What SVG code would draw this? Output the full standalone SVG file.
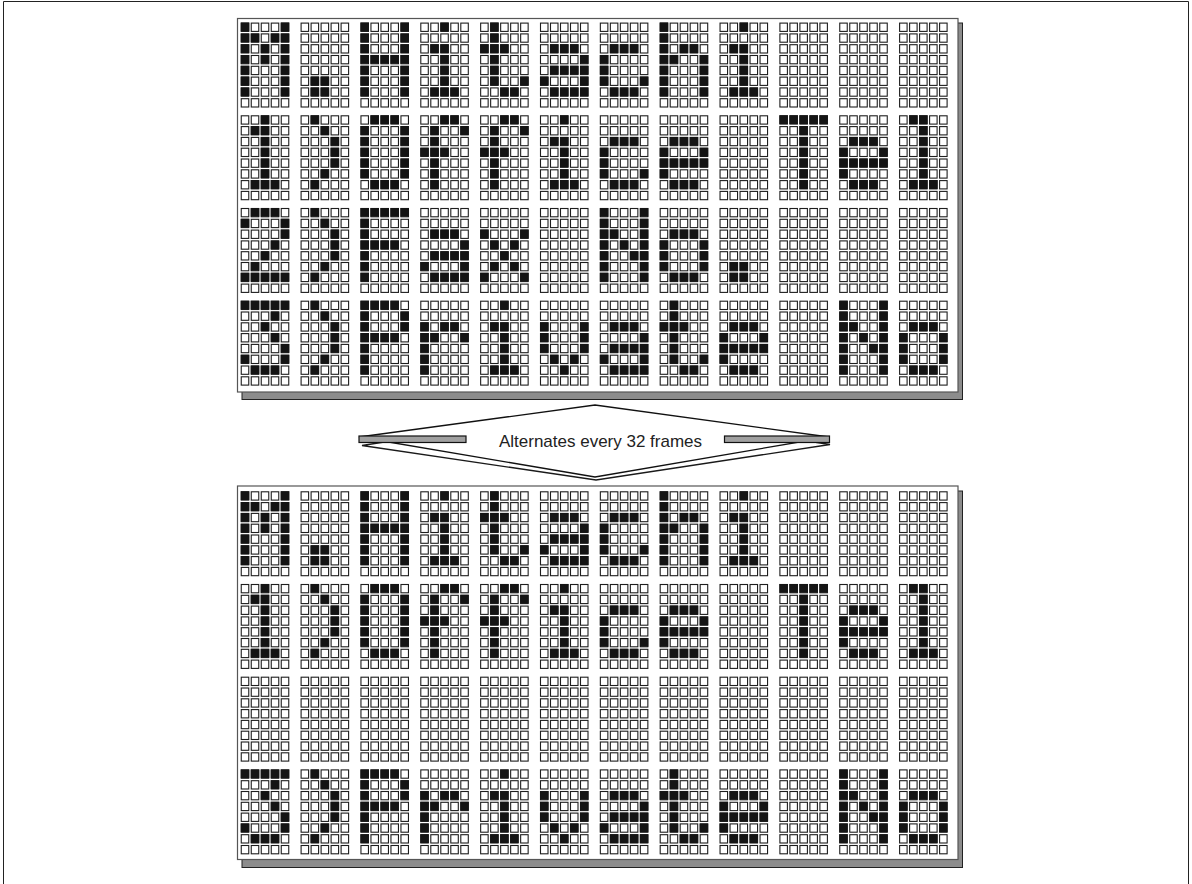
<svg xmlns="http://www.w3.org/2000/svg" xmlns:xlink="http://www.w3.org/1999/xlink" width="1192" height="884" viewBox="0 0 1192 884">
<style>
.on{fill:none;stroke:#141414;stroke-width:8.8}
.cellrow rect{fill:#fff;stroke:#1e1e1e;stroke-width:1.1}
.panel{fill:#fff;stroke:#555;stroke-width:1.2}
.shadow{fill:#8c8c8c;stroke:#222;stroke-width:1}
.lbl{font-family:"Liberation Sans",Arial,sans-serif;font-size:17px;fill:#222}
</style>
<defs>
<g id="r5" class="cellrow"><rect x="1.25" y="1.25" width="7.5" height="8.3"/><rect x="11.25" y="1.25" width="7.5" height="8.3"/><rect x="21.25" y="1.25" width="7.5" height="8.3"/><rect x="31.25" y="1.25" width="7.5" height="8.3"/><rect x="41.25" y="1.25" width="7.5" height="8.3"/></g>
<g id="blk"><use href="#r5"/><use href="#r5" y="10.8"/><use href="#r5" y="21.6"/><use href="#r5" y="32.4"/><use href="#r5" y="43.2"/><use href="#r5" y="54"/><use href="#r5" y="64.8"/><use href="#r5" y="75.6"/></g>
<g id="bl"><use href="#blk"/><use href="#blk" x="59.85"/><use href="#blk" x="119.7"/><use href="#blk" x="179.55"/><use href="#blk" x="239.4"/><use href="#blk" x="299.25"/><use href="#blk" x="359.1"/><use href="#blk" x="418.95"/><use href="#blk" x="478.8"/><use href="#blk" x="538.65"/><use href="#blk" x="598.5"/><use href="#blk" x="658.35"/></g>
<path id="gM" class="on" transform="translate(0.75 5.15)" d="M0 0h8.5m31.5 0h8.5M0 10.8h8.5m1.5 0h8.5m11.5 0h8.5m1.5 0h8.5M0 21.6h8.5m11.5 0h8.5m11.5 0h8.5M0 32.4h8.5m11.5 0h8.5m11.5 0h8.5M0 43.2h8.5m31.5 0h8.5M0 54h8.5m31.5 0h8.5M0 64.8h8.5m31.5 0h8.5"/>
<path id="gdot" class="on" transform="translate(0.75 5.15)" d="M10 54h8.5m1.5 0h8.5M10 64.8h8.5m1.5 0h8.5"/>
<path id="gH" class="on" transform="translate(0.75 5.15)" d="M0 0h8.5m31.5 0h8.5M0 10.8h8.5m31.5 0h8.5M0 21.6h8.5m31.5 0h8.5M0 32.4h8.5m1.5 0h8.5m1.5 0h8.5m1.5 0h8.5m1.5 0h8.5M0 43.2h8.5m31.5 0h8.5M0 54h8.5m31.5 0h8.5M0 64.8h8.5m31.5 0h8.5"/>
<path id="gi" class="on" transform="translate(0.75 5.15)" d="M20 0h8.5M10 21.6h8.5m1.5 0h8.5M20 32.4h8.5M20 43.2h8.5M20 54h8.5M10 64.8h8.5m1.5 0h8.5m1.5 0h8.5"/>
<path id="gt" class="on" transform="translate(0.75 5.15)" d="M10 0h8.5M10 10.8h8.5M0 21.6h8.5m1.5 0h8.5m1.5 0h8.5M10 32.4h8.5M10 43.2h8.5M10 54h8.5m21.5 0h8.5M20 64.8h8.5m1.5 0h8.5"/>
<path id="ga" class="on" transform="translate(0.75 5.15)" d="M10 21.6h8.5m1.5 0h8.5m1.5 0h8.5M40 32.4h8.5M10 43.2h8.5m1.5 0h8.5m1.5 0h8.5m1.5 0h8.5M0 54h8.5m31.5 0h8.5M10 64.8h8.5m1.5 0h8.5m1.5 0h8.5m1.5 0h8.5"/>
<path id="gc" class="on" transform="translate(0.75 5.15)" d="M10 21.6h8.5m1.5 0h8.5m1.5 0h8.5M0 32.4h8.5M0 43.2h8.5M0 54h8.5m31.5 0h8.5M10 64.8h8.5m1.5 0h8.5m1.5 0h8.5"/>
<path id="gh" class="on" transform="translate(0.75 5.15)" d="M0 0h8.5M0 10.8h8.5M0 21.6h8.5m11.5 0h8.5m1.5 0h8.5M0 32.4h8.5m1.5 0h8.5m21.5 0h8.5M0 43.2h8.5m31.5 0h8.5M0 54h8.5m31.5 0h8.5M0 64.8h8.5m31.5 0h8.5"/>
<path id="g1" class="on" transform="translate(0.75 5.15)" d="M20 0h8.5M10 10.8h8.5m1.5 0h8.5M20 21.6h8.5M20 32.4h8.5M20 43.2h8.5M20 54h8.5M10 64.8h8.5m1.5 0h8.5m1.5 0h8.5"/>
<path id="gpar" class="on" transform="translate(0.75 5.15)" d="M10 0h8.5M20 10.8h8.5M30 21.6h8.5M30 32.4h8.5M30 43.2h8.5M20 54h8.5M10 64.8h8.5"/>
<path id="gO" class="on" transform="translate(0.75 5.15)" d="M10 0h8.5m1.5 0h8.5m1.5 0h8.5M0 10.8h8.5m31.5 0h8.5M0 21.6h8.5m31.5 0h8.5M0 32.4h8.5m31.5 0h8.5M0 43.2h8.5m31.5 0h8.5M0 54h8.5m31.5 0h8.5M10 64.8h8.5m1.5 0h8.5m1.5 0h8.5"/>
<path id="gf" class="on" transform="translate(0.75 5.15)" d="M20 0h8.5m1.5 0h8.5M10 10.8h8.5m21.5 0h8.5M10 21.6h8.5M0 32.4h8.5m1.5 0h8.5m1.5 0h8.5M10 43.2h8.5M10 54h8.5M10 64.8h8.5"/>
<path id="ge" class="on" transform="translate(0.75 5.15)" d="M10 21.6h8.5m1.5 0h8.5m1.5 0h8.5M0 32.4h8.5m31.5 0h8.5M0 43.2h8.5m1.5 0h8.5m1.5 0h8.5m1.5 0h8.5m1.5 0h8.5M0 54h8.5M10 64.8h8.5m1.5 0h8.5m1.5 0h8.5"/>
<path id="gT" class="on" transform="translate(0.75 5.15)" d="M0 0h8.5m1.5 0h8.5m1.5 0h8.5m1.5 0h8.5m1.5 0h8.5M20 10.8h8.5M20 21.6h8.5M20 32.4h8.5M20 43.2h8.5M20 54h8.5M20 64.8h8.5"/>
<path id="gl" class="on" transform="translate(0.75 5.15)" d="M10 0h8.5m1.5 0h8.5M20 10.8h8.5M20 21.6h8.5M20 32.4h8.5M20 43.2h8.5M20 54h8.5M10 64.8h8.5m1.5 0h8.5m1.5 0h8.5"/>
<path id="g2" class="on" transform="translate(0.75 5.15)" d="M10 0h8.5m1.5 0h8.5m1.5 0h8.5M0 10.8h8.5m31.5 0h8.5M40 21.6h8.5M30 32.4h8.5M20 43.2h8.5M10 54h8.5M0 64.8h8.5m1.5 0h8.5m1.5 0h8.5m1.5 0h8.5m1.5 0h8.5"/>
<path id="gF" class="on" transform="translate(0.75 5.15)" d="M0 0h8.5m1.5 0h8.5m1.5 0h8.5m1.5 0h8.5m1.5 0h8.5M0 10.8h8.5M0 21.6h8.5M0 32.4h8.5m1.5 0h8.5m1.5 0h8.5m1.5 0h8.5M0 43.2h8.5M0 54h8.5M0 64.8h8.5"/>
<path id="gx" class="on" transform="translate(0.75 5.15)" d="M0 21.6h8.5m31.5 0h8.5M10 32.4h8.5m11.5 0h8.5M20 43.2h8.5M10 54h8.5m11.5 0h8.5M0 64.8h8.5m31.5 0h8.5"/>
<path id="gN" class="on" transform="translate(0.75 5.15)" d="M0 0h8.5m31.5 0h8.5M0 10.8h8.5m31.5 0h8.5M0 21.6h8.5m1.5 0h8.5m21.5 0h8.5M0 32.4h8.5m11.5 0h8.5m11.5 0h8.5M0 43.2h8.5m21.5 0h8.5m1.5 0h8.5M0 54h8.5m31.5 0h8.5M0 64.8h8.5m31.5 0h8.5"/>
<path id="go" class="on" transform="translate(0.75 5.15)" d="M10 21.6h8.5m1.5 0h8.5m1.5 0h8.5M0 32.4h8.5m31.5 0h8.5M0 43.2h8.5m31.5 0h8.5M0 54h8.5m31.5 0h8.5M10 64.8h8.5m1.5 0h8.5m1.5 0h8.5"/>
<path id="g3" class="on" transform="translate(0.75 5.15)" d="M0 0h8.5m1.5 0h8.5m1.5 0h8.5m1.5 0h8.5m1.5 0h8.5M30 10.8h8.5M20 21.6h8.5M30 32.4h8.5M40 43.2h8.5M0 54h8.5m31.5 0h8.5M10 64.8h8.5m1.5 0h8.5m1.5 0h8.5"/>
<path id="gP" class="on" transform="translate(0.75 5.15)" d="M0 0h8.5m1.5 0h8.5m1.5 0h8.5m1.5 0h8.5M0 10.8h8.5m31.5 0h8.5M0 21.6h8.5m31.5 0h8.5M0 32.4h8.5m1.5 0h8.5m1.5 0h8.5m1.5 0h8.5M0 43.2h8.5M0 54h8.5M0 64.8h8.5"/>
<path id="gr" class="on" transform="translate(0.75 5.15)" d="M0 21.6h8.5m11.5 0h8.5m1.5 0h8.5M0 32.4h8.5m1.5 0h8.5m21.5 0h8.5M0 43.2h8.5M0 54h8.5M0 64.8h8.5"/>
<path id="gv" class="on" transform="translate(0.75 5.15)" d="M0 21.6h8.5m31.5 0h8.5M0 32.4h8.5m31.5 0h8.5M0 43.2h8.5m31.5 0h8.5M10 54h8.5m11.5 0h8.5M20 64.8h8.5"/>
<g id="L1"><use href="#bl"/><use href="#gM"/><use href="#gdot" x="59.85"/><use href="#gH" x="119.7"/><use href="#gi" x="179.55"/><use href="#gt" x="239.4"/><use href="#ga" x="299.25"/><use href="#gc" x="359.1"/><use href="#gh" x="418.95"/><use href="#gi" x="478.8"/></g>
<g id="L2"><use href="#bl"/><use href="#g1"/><use href="#gpar" x="59.85"/><use href="#gO" x="119.7"/><use href="#gf" x="179.55"/><use href="#gf" x="239.4"/><use href="#gi" x="299.25"/><use href="#gc" x="359.1"/><use href="#ge" x="418.95"/><use href="#gT" x="538.65"/><use href="#ge" x="598.5"/><use href="#gl" x="658.35"/></g>
<g id="L3"><use href="#bl"/><use href="#g2"/><use href="#gpar" x="59.85"/><use href="#gF" x="119.7"/><use href="#ga" x="179.55"/><use href="#gx" x="239.4"/><use href="#gN" x="359.1"/><use href="#go" x="418.95"/><use href="#gdot" x="478.8"/></g>
<g id="L4"><use href="#bl"/><use href="#g3"/><use href="#gpar" x="59.85"/><use href="#gP" x="119.7"/><use href="#gr" x="179.55"/><use href="#gi" x="239.4"/><use href="#gv" x="299.25"/><use href="#ga" x="359.1"/><use href="#gt" x="418.95"/><use href="#ge" x="478.8"/><use href="#gN" x="598.5"/><use href="#go" x="658.35"/></g>
</defs>
<rect x="0" y="0" width="1192" height="884" fill="#fff"/>
<path d="M3.5 884V1.5H1188.5V884" fill="none" stroke="#222" stroke-width="1"/>
<g id="panel-top">
<rect class="shadow" x="242" y="23" width="720.5" height="376.5"/>
<rect class="panel" x="237.5" y="18.5" width="720.5" height="373.5"/>
<use href="#L1" x="240" y="21.85"/>
<use href="#L2" x="240" y="114.55"/>
<use href="#L3" x="240" y="207.25"/>
<use href="#L4" x="240" y="299.95"/>
</g>
<g id="panel-bottom">
<rect class="shadow" x="242" y="491" width="720.5" height="376.5"/>
<rect class="panel" x="237.5" y="486" width="720.5" height="373.5"/>
<use href="#L1" x="240" y="490.55"/>
<use href="#L2" x="240" y="583.25"/>
<use href="#bl" x="240" y="675.95"/>
<use href="#L4" x="240" y="768.65"/>
</g>
<g id="connectors">
<polygon points="362,445.5 596,409 830,444.5 596,480" fill="#fff" stroke="#1a1a1a" stroke-width="1.3"/>
<polygon points="359,437 595,405 829,437 595,477" fill="#fff" stroke="#111" stroke-width="1.3"/>
<rect x="359" y="436" width="107" height="6.5" fill="#a0a0a0" stroke="#111" stroke-width="1.2"/>
<rect x="724.5" y="436" width="105" height="6.5" fill="#a0a0a0" stroke="#111" stroke-width="1.2"/>
<text class="lbl" x="600.5" y="447" text-anchor="middle">Alternates every 32 frames</text>
</g>
</svg>
